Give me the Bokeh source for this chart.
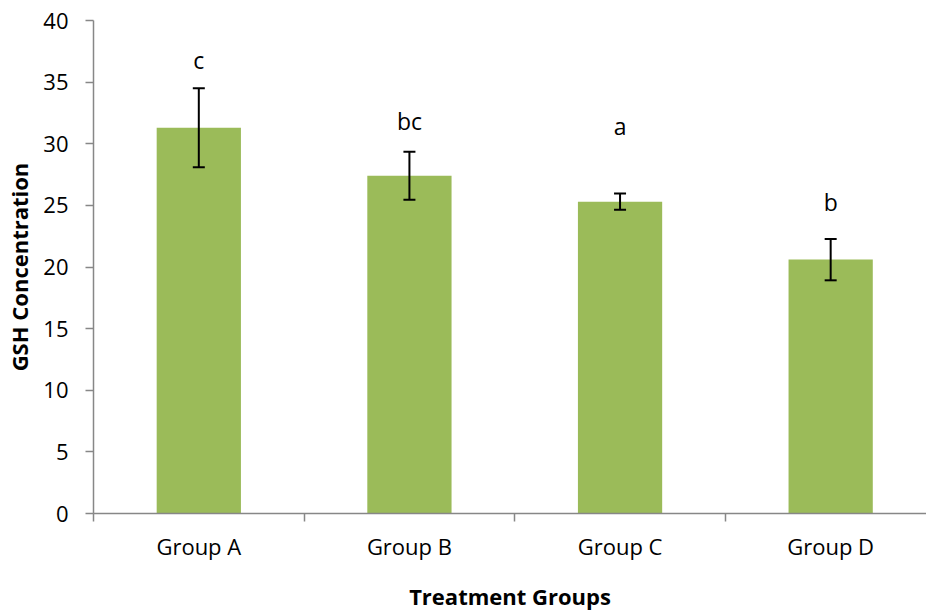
from bokeh.plotting import figure
from bokeh.models import Range1d, FixedTicker, ColumnDataSource, Whisker, TeeHead
from bokeh.core.properties import value
from bokeh.embed import file_html
from bokeh.resources import INLINE

# GSH concentration per treatment group (mean +/- error), with significance letters
groups = ["Group A", "Group B", "Group C", "Group D"]
gsh_mean = [31.3, 27.4, 25.3, 20.6]
gsh_err = [3.2, 1.95, 0.66, 1.68]
sig_letters = ["c", "bc", "a", "b"]
letter_y = [36.8, 31.85, 31.4, 25.3]

FONT = "Open Sans"
BAR_COLOR = "#9BBB59"
AXIS_COLOR = "#878787"

# categories sit at the middle of unit-wide slots; slot borders carry the ticks
xc = [i + 0.5 for i in range(len(groups))]
src = ColumnDataSource(dict(
    x=xc,
    top=gsh_mean,
    upper=[m + e for m, e in zip(gsh_mean, gsh_err)],
    lower=[m - e for m, e in zip(gsh_mean, gsh_err)],
    letter=sig_letters,
    ly=letter_y,
))

p = figure(width=926, height=613, output_backend="svg", toolbar_location=None,
           x_range=Range1d(0, 3.955), y_range=Range1d(0, 40),
           min_border_left=93, min_border_right=0, min_border_top=20,
           min_border_bottom=99)
p.outline_line_color = None
p.grid.visible = False
p.background_fill_color = "white"
p.border_fill_color = "white"

p.vbar(x="x", top="top", width=0.4, bottom=0, source=src,
       fill_color=BAR_COLOR, line_color=None)

p.add_layout(Whisker(base="x", upper="upper", lower="lower", source=src,
                     level="overlay", line_color="black", line_width=2,
                     upper_head=TeeHead(size=12, line_color="black", line_width=2),
                     lower_head=TeeHead(size=12, line_color="black", line_width=2)))

p.text(x="x", y="ly", text="letter", source=src, text_align="center",
       text_baseline="alphabetic", text_font=value(FONT),
       text_font_size="23px", text_color="black")

# y axis
p.yaxis.ticker = FixedTicker(ticks=list(range(0, 41, 5)))
p.yaxis.axis_line_color = AXIS_COLOR
p.yaxis.axis_line_width = 1.5
p.yaxis.major_tick_line_color = AXIS_COLOR
p.yaxis.major_tick_line_width = 1.5
p.yaxis.major_tick_out = 8
p.yaxis.major_tick_in = 0
p.yaxis.minor_tick_line_color = None
p.yaxis.major_label_text_font = FONT
p.yaxis.major_label_text_font_size = "22px"
p.yaxis.major_label_text_color = "black"
p.yaxis.major_label_standoff = 17
p.yaxis.axis_label = "GSH Concentration"
p.yaxis.axis_label_text_font = FONT
p.yaxis.axis_label_text_font_style = "bold"
p.yaxis.axis_label_text_font_size = "22px"
p.yaxis.axis_label_text_color = "black"
p.yaxis.axis_label_standoff = 6

# x axis: labels at slot centres, ticks at slot borders
p.xaxis.ticker = FixedTicker(ticks=xc, minor_ticks=list(range(len(groups) + 1)))
p.xaxis.major_label_overrides = {x: g for x, g in zip(xc, groups)}
p.xaxis.axis_line_color = AXIS_COLOR
p.xaxis.axis_line_width = 1.5
p.xaxis.major_tick_line_color = None
p.xaxis.minor_tick_line_color = AXIS_COLOR
p.xaxis.minor_tick_line_width = 1.5
p.xaxis.minor_tick_out = 8
p.xaxis.minor_tick_in = 0
p.xaxis.major_label_text_font = FONT
p.xaxis.major_label_text_font_size = "22px"
p.xaxis.major_label_text_color = "black"
p.xaxis.major_label_standoff = 9
p.xaxis.axis_label = "Treatment Groups"
p.xaxis.axis_label_text_font = FONT
p.xaxis.axis_label_text_font_style = "bold"
p.xaxis.axis_label_text_font_size = "22px"
p.xaxis.axis_label_text_color = "black"
p.xaxis.axis_label_standoff = 17

open("out.html", "w").write(file_html(p, INLINE))
